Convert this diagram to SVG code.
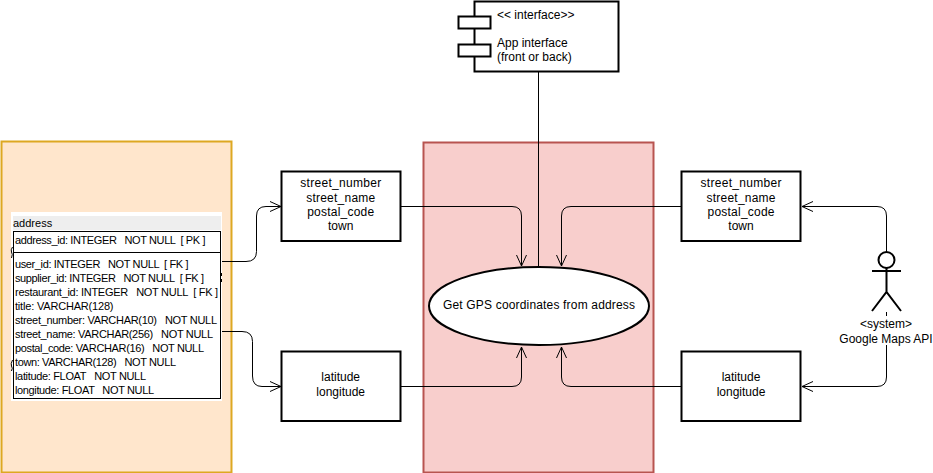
<svg xmlns="http://www.w3.org/2000/svg" width="933" height="473" viewBox="0 0 933 473">
<style>
text{font-family:"Liberation Sans",Arial,sans-serif;font-size:12px;fill:#000}
.c{text-anchor:middle}
.t{font-size:11px}
.b{fill:#fff;stroke:#000;stroke-width:2}
.l{fill:none;stroke:#000;stroke-width:1}
</style>
<defs>
<marker id="a" markerUnits="userSpaceOnUse" markerWidth="14" markerHeight="12" refX="12" refY="6" orient="auto"><path d="M1 1L12 6L1 11" fill="none" stroke="#000"/></marker>
</defs>
<g id="zone-left"><rect x="1.500" y="141.500" width="230" height="331" fill="#ffe6cc" stroke="#d79b00" stroke-width="2" stroke-opacity=".85"/></g>
<g id="zone-center"><rect x="423.500" y="142.500" width="230" height="330" fill="#f8cecc" stroke="#b85450" stroke-width="2"/></g>
<g id="connectors">
<path class="l" d="M222 261.500H246Q256.500 261.500 256.500 251.500V216Q256.500 206.500 266 206.500H281" marker-end="url(#a)"/>
<path class="l" d="M222 331.500H242Q252.500 331.500 252.500 341.500V376Q252.500 386.500 262 386.500H281" marker-end="url(#a)"/>
<path class="l" d="M401 206.500H512Q521.500 206.500 521.500 216V266" marker-end="url(#a)"/>
<path class="l" d="M401 386.500H512Q521.500 386.500 521.500 377V347" marker-end="url(#a)"/>
<path class="l" d="M538.500 72V267"/>
<path class="l" d="M681 206.500H571Q561.500 206.500 561.500 216V266" marker-end="url(#a)"/>
<path class="l" d="M681 386.500H571Q561.500 386.500 561.500 377V347" marker-end="url(#a)"/>
<path class="l" d="M886.500 252V216Q886.500 206.500 877 206.500H802" marker-end="url(#a)"/>
<path class="l" d="M886.500 312V316M886.500 345V377Q886.500 386.500 877 386.500H802" marker-end="url(#a)"/>
</g>
<g id="interface">
<rect class="b" x="474.500" y="1.500" width="144" height="70"/>
<rect class="b" x="458.500" y="16.500" width="32" height="12"/>
<rect class="b" x="458.500" y="44.500" width="32" height="12"/>
<text x="497" y="19">&lt;&lt; interface&gt;&gt;</text>
<text x="497" y="47">App interface</text>
<text x="497" y="61">(front or back)</text>
</g>
<g id="address">
<rect x="11" y="212" width="211" height="189" fill="#fff"/>
<path d="M12.500 247Q10.500 250 11.500 252Q13 254 11.500 258M12.500 360Q10.500 364 11.500 366Q13 368 11.500 371M221.500 273V276M221.500 279V282" fill="none" stroke="#000" stroke-width="1"/>
<rect x="13" y="216" width="208" height="14" fill="#eee"/>
<text class="t" x="13" y="227">address</text>
<rect x="13.500" y="231.500" width="207" height="167" fill="#fff" stroke="#000"/>
<path d="M13 252.500H221" stroke="#000"/>
<text class="t" x="15" y="244" xml:space="preserve" textLength="190.500">address_id: INTEGER   NOT NULL  [ PK ]</text>
<text class="t" x="15" y="268" xml:space="preserve" textLength="173.500">user_id: INTEGER   NOT NULL  [ FK ]</text>
<text class="t" x="15" y="282" xml:space="preserve" textLength="189">supplier_id: INTEGER   NOT NULL  [ FK ]</text>
<text class="t" x="15" y="296" xml:space="preserve" textLength="203">restaurant_id: INTEGER   NOT NULL  [ FK ]</text>
<text class="t" x="15" y="310" textLength="98.500">title: VARCHAR(128)</text>
<text class="t" x="15" y="324" xml:space="preserve" textLength="202">street_number: VARCHAR(10)   NOT NULL</text>
<text class="t" x="15" y="338" xml:space="preserve" textLength="198">street_name: VARCHAR(256)   NOT NULL</text>
<text class="t" x="15" y="352" xml:space="preserve" textLength="189">postal_code: VARCHAR(16)   NOT NULL</text>
<text class="t" x="15" y="366" xml:space="preserve" textLength="161">town: VARCHAR(128)   NOT NULL</text>
<text class="t" x="15" y="380" xml:space="preserve" textLength="131">latitude: FLOAT   NOT NULL</text>
<text class="t" x="15" y="394" xml:space="preserve" textLength="139">longitude: FLOAT   NOT NULL</text>
</g>
<g id="fields-left">
<rect class="b" x="281.500" y="171.500" width="119" height="69.500"/>
<text class="c" x="340.700" y="187" textLength="81">street_number</text>
<text class="c" x="340.700" y="202" textLength="69">street_name</text>
<text class="c" x="340.700" y="216" textLength="67">postal_code</text>
<text class="c" x="340.700" y="230">town</text>
</g>
<g id="coords-left">
<rect class="b" x="281.500" y="351.500" width="119" height="69.500"/>
<text class="c" x="340.700" y="381">latitude</text>
<text class="c" x="340.700" y="396">longitude</text>
</g>
<g id="fields-right">
<rect class="b" x="681.500" y="171.500" width="119" height="69.500"/>
<text class="c" x="741" y="187" textLength="81">street_number</text>
<text class="c" x="741" y="202" textLength="69">street_name</text>
<text class="c" x="741" y="216" textLength="67">postal_code</text>
<text class="c" x="741" y="230">town</text>
</g>
<g id="coords-right">
<rect class="b" x="681.500" y="351.500" width="119" height="69.500"/>
<text class="c" x="741" y="381">latitude</text>
<text class="c" x="741" y="396">longitude</text>
</g>
<g id="usecase">
<ellipse class="b" cx="539" cy="306" rx="110" ry="39"/>
<text class="c" x="539" y="309" textLength="192">Get GPS coordinates from address</text>
</g>
<g id="actor">
<circle cx="886.500" cy="260" r="8" fill="#fff" stroke="#000" stroke-width="2"/>
<path d="M886.500 268V292M872 271H901M872 311L886.500 292L901 311" fill="none" stroke="#000" stroke-width="2"/>
<text class="c" x="886" y="328">&lt;system&gt;</text>
<text class="c" x="886" y="343">Google Maps API</text>
</g>
</svg>
